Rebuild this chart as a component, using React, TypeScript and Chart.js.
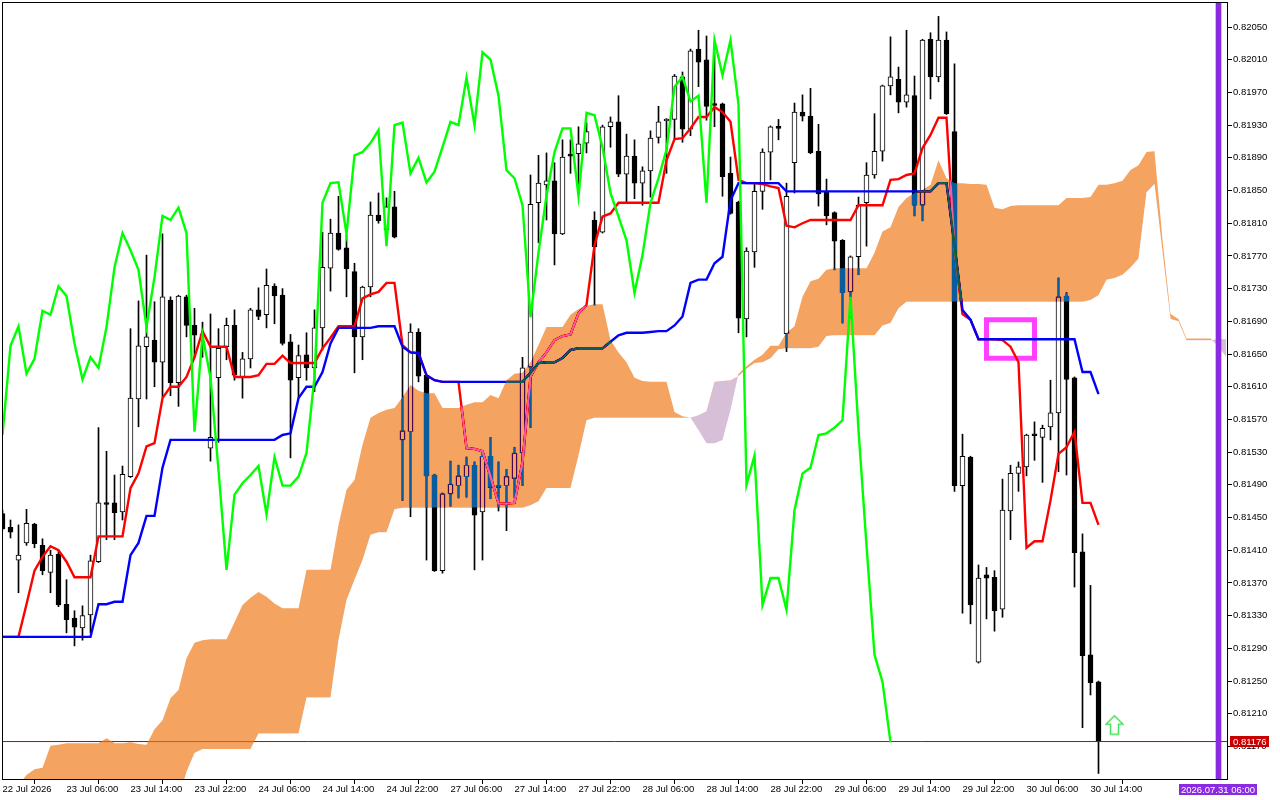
import React, { useEffect, useRef } from "react";
import { Chart, registerables } from "chart.js";

Chart.register(...registerables);

const timeLabels = [
  "22 Jul 2026", "23 Jul 06:00", "23 Jul 14:00", "23 Jul 22:00", "24 Jul 06:00", "24 Jul 14:00",
  "24 Jul 22:00", "27 Jul 06:00", "27 Jul 14:00", "27 Jul 22:00", "28 Jul 06:00", "28 Jul 14:00",
  "28 Jul 22:00", "29 Jul 06:00", "29 Jul 14:00", "29 Jul 22:00", "30 Jul 06:00", "30 Jul 14:00",
];
const priceTicks = [
  0.8205, 0.8201, 0.8197, 0.8193, 0.8189, 0.8185, 0.8181, 0.8177, 0.8173, 0.8169, 0.8165, 0.8161,
  0.8157, 0.8153, 0.8149, 0.8145, 0.8141, 0.8137, 0.8133, 0.8129, 0.8125, 0.8121, 0.8117,
];

// hourly candles
const opens = [
  0.81455,0.81438,0.81398,0.81419,0.81442,0.81416,0.81383,0.81405,0.81344,0.81327,
  0.81315,0.81331,0.81396,0.81468,0.81468,0.81457,0.815,0.81595,0.81659,0.81667,
  0.8164,0.81716,0.81615,0.8172,0.81685,0.81673,0.81535,0.81621,0.81659,0.81685,
  0.81622,0.81644,0.81704,0.81698,0.81733,0.81722,0.81665,0.81621,0.81649,0.81633,
  0.81682,0.81755,0.81798,0.8178,0.81751,0.81671,0.81732,0.8182,0.81802,0.8183,
  0.81545,0.81555,0.81677,0.81624,0.81502,0.81385,0.81479,0.81489,0.815,0.81514,
  0.81457,0.81525,0.81488,0.81489,0.81498,0.81529,0.81634,0.81835,0.81857,0.81862,
  0.81797,0.81893,0.81895,0.81908,0.81814,0.81799,0.81928,0.81934,0.8187,0.81892,
  0.81859,0.81874,0.81915,0.81935,0.81937,0.81989,0.81925,0.82023,0.8201,0.81955,
  0.81956,0.81871,0.81836,0.81693,0.81775,0.81849,0.81897,0.81927,0.81675,0.81884,
  0.81946,0.81941,0.81898,0.81848,0.81823,0.81789,0.81726,0.81769,0.81835,0.81869,
  0.81898,0.81978,0.81986,0.81958,0.81966,0.81832,0.82035,0.81989,0.82034,0.81922,
  0.81489,0.81524,0.81273,0.8138,0.81377,0.81338,0.81458,0.81504,0.81512,0.81551,
  0.81548,0.81561,0.81578,0.81721,0.81621,0.81408,0.81282,0.81249,
];
const highs = [
  0.81459,0.81447,0.81441,0.8146,0.81443,0.81424,0.8141,0.8141,0.81374,0.81336,
  0.81342,0.81404,0.8156,0.81531,0.81502,0.81513,0.81681,0.81715,0.81771,0.81714,
  0.81797,0.8172,0.81722,0.81722,0.81706,0.81689,0.81699,0.81681,0.81694,0.81704,
  0.81652,0.81706,0.81731,0.81754,0.81736,0.8173,0.81674,0.81661,0.81676,0.81704,
  0.81799,0.81815,0.81843,0.81796,0.81761,0.81733,0.81836,0.81847,0.81841,0.81849,
  0.81659,0.81687,0.81681,0.81625,0.81503,0.8148,0.81519,0.81514,0.81524,0.81518,
  0.81529,0.81548,0.81518,0.81509,0.81536,0.81646,0.81869,0.81893,0.81896,0.81884,
  0.81912,0.81912,0.81928,0.81933,0.81824,0.8193,0.8194,0.81966,0.81919,0.81912,
  0.81879,0.81923,0.81953,0.81938,0.81992,0.81995,0.82023,0.82046,0.82039,0.82019,
  0.81957,0.81891,0.81837,0.8178,0.81859,0.81901,0.81929,0.81937,0.81859,0.81957,
  0.81967,0.81975,0.81931,0.81864,0.81824,0.8179,0.8177,0.81842,0.81884,0.81944,
  0.81979,0.82038,0.82001,0.82046,0.8199,0.82035,0.82043,0.82063,0.82044,0.82005,
  0.81552,0.81525,0.81392,0.81389,0.81385,0.81497,0.81514,0.81518,0.81552,0.81567,
  0.81563,0.81618,0.81743,0.81725,0.81622,0.8143,0.81367,0.8125,
];
const lows = [
  0.81435,0.81425,0.81358,0.81416,0.81413,0.8138,0.81358,0.81341,0.81309,0.81293,
  0.813,0.81309,0.81395,0.81423,0.81423,0.81447,0.81499,0.81561,0.81595,0.8161,
  0.81597,0.81599,0.81586,0.81671,0.81646,0.81646,0.81519,0.81542,0.81643,0.81618,
  0.81596,0.81633,0.81692,0.81682,0.81687,0.81661,0.81523,0.81596,0.81618,0.81604,
  0.81655,0.81727,0.81777,0.8172,0.81627,0.81643,0.8172,0.8181,0.81789,0.81792,
  0.81471,0.81451,0.81616,0.81398,0.81384,0.81382,0.81464,0.81474,0.81475,0.81386,
  0.81398,0.81473,0.81458,0.81434,0.81474,0.81489,0.8156,0.81786,0.81814,0.81759,
  0.81796,0.81871,0.81847,0.81896,0.8171,0.81798,0.81903,0.81867,0.81835,0.8184,
  0.81832,0.81842,0.81908,0.81871,0.81912,0.81909,0.81917,0.81977,0.81936,0.81928,
  0.81843,0.81821,0.81676,0.81671,0.81756,0.81827,0.81863,0.81912,0.81653,0.81847,
  0.81935,0.81895,0.81831,0.81808,0.81753,0.81688,0.81695,0.81747,0.81782,0.81865,
  0.81886,0.81967,0.81945,0.81952,0.81819,0.81813,0.81962,0.81983,0.81943,0.81482,
  0.81333,0.8132,0.81272,0.81326,0.81311,0.81328,0.81423,0.81482,0.81501,0.8152,
  0.81493,0.81545,0.81506,0.81502,0.81365,0.81193,0.81233,0.81137,
];
const closes = [
  0.81436,0.81432,0.81404,0.81443,0.81418,0.81385,0.81404,0.81343,0.81325,0.81316,
  0.8133,0.81397,0.81468,0.81466,0.81456,0.81503,0.81596,0.8166,0.81671,0.8164,
  0.8172,0.81615,0.81721,0.81685,0.81673,0.81672,0.81548,0.81657,0.81685,0.81624,
  0.81644,0.81704,0.81696,0.81734,0.81721,0.81663,0.81618,0.81648,0.81633,0.81682,
  0.81756,0.81798,0.81778,0.81754,0.81671,0.81732,0.8182,0.81813,0.8183,0.81793,
  0.81556,0.81677,0.81623,0.81501,0.81385,0.81479,0.81491,0.81501,0.81514,0.81453,
  0.81525,0.81487,0.81487,0.815,0.81529,0.81633,0.81833,0.81859,0.81862,0.81797,
  0.81891,0.81892,0.81907,0.81922,0.81781,0.81928,0.81934,0.8187,0.81892,0.81859,
  0.81874,0.81914,0.81934,0.81937,0.8199,0.81925,0.82021,0.82007,0.81953,0.81954,
  0.81867,0.81822,0.81694,0.81776,0.81849,0.81897,0.81928,0.81926,0.81843,0.81946,
  0.81941,0.81896,0.81846,0.81819,0.81788,0.81725,0.81769,0.81832,0.81869,0.81898,
  0.81978,0.81989,0.81958,0.81967,0.81832,0.82034,0.81989,0.82034,0.81944,0.81489,
  0.81525,0.81343,0.81376,0.81376,0.81336,0.81459,0.81504,0.81512,0.81551,0.8155,
  0.81559,0.81578,0.8172,0.81619,0.81407,0.81281,0.81248,0.81176,
];

// tenkan, kijun and chikou lines
const tenkan = [
  0.81304,0.81304,0.81304,0.81344,0.81385,0.81402,0.81415,0.8141,0.81396,0.81377,
  0.81377,0.81377,0.81427,0.81427,0.81427,0.81427,0.81486,0.81504,0.81537,0.81541,
  0.81596,0.8161,0.8161,0.81622,0.81646,0.81678,0.81659,0.81659,0.81659,0.81622,
  0.81622,0.81622,0.81624,0.81638,0.81638,0.81648,0.81639,0.81639,0.81639,0.81639,
  0.81657,0.8167,0.81684,0.81684,0.81684,0.81718,0.81723,0.81726,0.81737,0.81737,
  0.81661,0.81652,0.81651,0.81624,0.81618,0.81616,0.81616,0.81616,0.81535,0.81534,
  0.81531,0.815,0.81467,0.81467,0.81468,0.81518,0.81622,0.8164,0.81652,0.81667,
  0.81672,0.81674,0.817,0.8171,0.81783,0.81818,0.81822,0.81835,0.81835,0.81835,
  0.81835,0.81835,0.81835,0.81887,0.81913,0.81914,0.81926,0.8194,0.8194,0.81952,
  0.81946,0.81934,0.81863,0.81859,0.81859,0.81858,0.81855,0.81853,0.81807,0.81805,
  0.8181,0.81814,0.81814,0.81814,0.81814,0.81814,0.81814,0.81832,0.81832,0.81832,
  0.81832,0.81863,0.81864,0.81869,0.81871,0.81902,0.81918,0.81939,0.81939,0.8178,
  0.81699,0.81692,0.81668,0.81668,0.81668,0.81667,0.81659,0.8164,0.81413,0.81421,
  0.81421,0.81471,0.81528,0.81536,0.81555,0.81468,0.81468,0.81441,
];
const kijun = [
  0.81304,0.81304,0.81304,0.81304,0.81304,0.81304,0.81304,0.81304,0.81304,0.81304,
  0.81304,0.81304,0.81344,0.81344,0.81347,0.81347,0.81404,0.81419,0.81452,0.81452,
  0.81511,0.81545,0.81545,0.81545,0.81545,0.81545,0.81545,0.81545,0.81545,0.81545,
  0.81545,0.81545,0.81545,0.81545,0.81545,0.81551,0.81553,0.81596,0.8161,0.8161,
  0.81628,0.81663,0.81682,0.81682,0.81682,0.81682,0.81682,0.81684,0.81684,0.81684,
  0.81659,0.81652,0.81651,0.81624,0.81618,0.81616,0.81616,0.81616,0.81616,0.81616,
  0.81616,0.81616,0.81616,0.81616,0.81616,0.81616,0.81627,0.81639,0.8164,0.8164,
  0.81645,0.81655,0.81657,0.81657,0.81657,0.81657,0.81665,0.81673,0.81676,0.81676,
  0.81676,0.81677,0.81678,0.81678,0.81685,0.81696,0.81737,0.81741,0.81741,0.81761,
  0.81769,0.81838,0.81859,0.81859,0.81859,0.81859,0.81859,0.81859,0.81849,0.81849,
  0.81849,0.81849,0.81849,0.81849,0.81849,0.81849,0.81849,0.81849,0.81849,0.81849,
  0.81849,0.81849,0.81849,0.81849,0.81849,0.81849,0.81849,0.81859,0.81859,0.81783,
  0.81704,0.81692,0.81668,0.81668,0.81668,0.81668,0.81668,0.81668,0.81668,0.81668,
  0.81668,0.81668,0.81668,0.81668,0.81668,0.81628,0.81628,0.81601,
];
const chikou = [
  0.81551,0.8166,0.81684,0.81626,0.81644,0.81703,0.81698,0.81733,0.81721,0.81663,
  0.81619,0.81646,0.81633,0.81683,0.81756,0.81798,0.81777,0.81753,0.81683,0.81744,
  0.81819,0.81814,0.81829,0.81798,0.81555,0.81673,0.81621,0.81508,0.81386,0.81478,
  0.81492,0.81502,0.81513,0.81454,0.81524,0.81489,0.81489,0.815,0.81529,0.81622,
  0.81835,0.81859,0.8186,0.81797,0.81893,0.81897,0.81908,0.81924,0.81782,0.8193,
  0.81933,0.81871,0.8189,0.8186,0.81873,0.81903,0.81934,0.8193,0.81988,0.8193,
  0.82019,0.8201,0.81966,0.81875,0.81865,0.81832,0.81695,0.81774,0.81844,0.81897,
  0.81926,0.81926,0.81843,0.81945,0.81942,0.81903,0.81847,0.81818,0.81789,0.81725,
  0.81771,0.81835,0.81865,0.819,0.81977,0.81989,0.81959,0.81966,0.81835,0.82034,
  0.81991,0.82034,0.81955,0.8149,0.81526,0.81343,0.81376,0.81376,0.81337,0.81459,
  0.81504,0.81511,0.81551,0.81553,0.8156,0.81569,0.8172,0.81557,0.81416,0.81282,
  0.81249,0.81175,
];

// cloud spans, they run 16 bars past the last candle
const senkouA = [
  0.81105,0.81111,0.81123,0.81135,0.81142,0.81144,0.81171,0.81172,0.81174,0.81174,
  0.81174,0.81174,0.81174,0.8118,0.81174,0.81174,0.81175,0.81173,0.81172,0.81191,
  0.81202,0.81229,0.81239,0.81278,0.81297,0.813,0.81301,0.81301,0.81301,0.81322,
  0.81343,0.81352,0.81359,0.81353,0.81345,0.81339,0.81339,0.81339,0.81386,0.81386,
  0.81386,0.81386,0.81441,0.81484,0.81496,0.81539,0.81572,0.81578,0.81582,0.81584,
  0.81597,0.81612,0.81605,0.81602,0.81602,0.81584,0.81584,0.81584,0.81588,0.81591,
  0.81591,0.816,0.81596,0.81618,0.81626,0.81627,0.8164,0.81661,0.81683,0.81683,
  0.81683,0.81698,0.81705,0.81709,0.81711,0.81711,0.81667,0.81652,0.8164,0.81621,
  0.81617,0.81616,0.81616,0.81616,0.81579,0.81574,0.81572,0.81557,0.81541,0.81541,
  0.81545,0.81582,0.81626,0.81635,0.81643,0.81649,0.8166,0.8166,0.81676,0.81684,
  0.8172,0.81739,0.81742,0.81753,0.81755,0.81755,0.81755,0.81755,0.81755,0.81774,
  0.818,0.81805,0.8183,0.81841,0.81847,0.81851,0.81857,0.81887,0.81865,0.81859,
  0.81859,0.81858,0.81858,0.81857,0.81829,0.81827,0.81831,0.81832,0.81832,0.81832,
  0.81832,0.81832,0.81832,0.81841,0.81841,0.81841,0.81842,0.81857,0.81857,0.81859,
  0.81862,0.81875,0.81881,0.81897,0.81898,0.8179,0.81699,0.81693,0.81669,0.81669,
  0.81669,0.81669,0.81659,0.81646,
];
const senkouB = [
  0.81095,0.81095,0.81095,0.81095,0.81095,0.81095,0.81095,0.81095,0.81095,0.81095,
  0.81095,0.81095,0.81095,0.81095,0.81095,0.81095,0.81095,0.81095,0.81095,0.81095,
  0.81095,0.81095,0.81105,0.81139,0.81162,0.81167,0.81167,0.81167,0.81167,0.81167,
  0.81167,0.81167,0.81186,0.81186,0.81186,0.81186,0.81186,0.81186,0.8123,0.8123,
  0.8123,0.8123,0.813,0.81349,0.81374,0.81398,0.81429,0.81432,0.81432,0.8146,
  0.81462,0.81462,0.81462,0.81462,0.81462,0.81462,0.81462,0.81462,0.81462,0.81462,
  0.81462,0.81462,0.81462,0.81462,0.81462,0.81462,0.81465,0.8147,0.81486,0.81486,
  0.81486,0.81486,0.81526,0.81569,0.81572,0.81572,0.81572,0.81572,0.81572,0.81572,
  0.81572,0.81572,0.81572,0.81572,0.81572,0.81572,0.81572,0.81575,0.8158,0.81616,
  0.81617,0.81618,0.81623,0.81632,0.81639,0.8164,0.81645,0.81656,0.81657,0.81657,
  0.81657,0.81657,0.81659,0.81672,0.81673,0.81673,0.81673,0.81673,0.81673,0.81673,
  0.81685,0.81688,0.81706,0.81714,0.81714,0.81714,0.81714,0.81714,0.81714,0.81714,
  0.81714,0.81714,0.81714,0.81714,0.81714,0.81714,0.81714,0.81714,0.81714,0.81714,
  0.81714,0.81714,0.81714,0.81714,0.81714,0.81714,0.81716,0.81722,0.81741,0.81743,
  0.81747,0.81756,0.81767,0.81848,0.81858,0.81775,0.81693,0.8169,0.81667,0.81667,
  0.81667,0.81667,0.81668,0.81668,
];

const lastPrice = 0.81176;
const futureBar = 152;
const futureLabel = "2026.07.31 06:00";
const boxBars = [123, 129];
const boxPrices = [0.81692, 0.81645];
const arrowBar = 139;
const arrowPrice = 0.81196;

const labelFont = "9.5px 'Liberation Sans'";

function makeArrow() {
  const c = document.createElement("canvas");
  c.width = 19;
  c.height = 21;
  const g = c.getContext("2d")!;
  g.beginPath();
  g.moveTo(9.5, 1);
  g.lineTo(18, 9.5);
  g.lineTo(13.5, 9.5);
  g.lineTo(13.5, 19.5);
  g.lineTo(5.5, 19.5);
  g.lineTo(5.5, 9.5);
  g.lineTo(1, 9.5);
  g.closePath();
  g.fillStyle = "#ffffff";
  g.fill();
  g.strokeStyle = "#4be05a";
  g.lineWidth = 1.5;
  g.stroke();
  return c;
}

export default function App() {
  const canvasRef = useRef<HTMLCanvasElement | null>(null);

  useEffect(() => {
    if (!canvasRef.current) return;

    const toPoints = (values: number[]) => values.map((y, i) => ({ x: i, y }));

    const datasets: any[] = [
      {
        type: "bar",
        data: highs.map((h, i) => ({ x: i, y: [lows[i], h] })),
        backgroundColor: "#000000",
        barThickness: 1,
        grouped: false,
        order: 90,
      },
      {
        type: "bar",
        data: opens.map((o, i) => ({ x: i, y: [o, closes[i]] })),
        backgroundColor: opens.map((o, i) => (closes[i] >= o ? "#ffffff" : "#000000")),
        borderColor: "#000000",
        borderWidth: 1,
        borderSkipped: false,
        barThickness: 5,
        minBarLength: 2,
        grouped: false,
        order: 80,
      },
      {
        type: "line",
        data: [{ x: -1, y: lastPrice }, { x: 154, y: lastPrice }],
        borderColor: "#c40000",
        borderWidth: 1,
        pointRadius: 0,
        order: 70,
      },
      {
        type: "line",
        data: [
          { x: boxBars[0], y: boxPrices[0] },
          { x: boxBars[1], y: boxPrices[0] },
          { x: boxBars[1], y: boxPrices[1] },
          { x: boxBars[0], y: boxPrices[1] },
          { x: boxBars[0], y: boxPrices[0] },
        ],
        borderColor: "#ff40ff",
        borderWidth: 5,
        borderJoinStyle: "miter",
        borderCapStyle: "square",
        pointRadius: 0,
        order: 60,
      },
      { type: "line", data: toPoints(tenkan), borderColor: "#ff0000", borderWidth: 2.4, pointRadius: 0, order: 50 },
      { type: "line", data: toPoints(kijun), borderColor: "#0000ff", borderWidth: 2.4, pointRadius: 0, order: 40 },
      {
        type: "line",
        data: toPoints(senkouA),
        borderWidth: 0,
        pointRadius: 0,
        fill: { target: "+1", above: "#0b5b9f", below: "#274027" },
        order: 30,
      },
      { type: "line", data: toPoints(senkouB), borderWidth: 0, pointRadius: 0, order: 29 },
      { type: "line", data: toPoints(chikou), borderColor: "#00ff00", borderWidth: 2.4, pointRadius: 0, order: 20 },
      {
        type: "bar",
        data: [{ x: futureBar, y: [0.81, 0.83] }],
        backgroundColor: "#8a2be2",
        barThickness: 5,
        grouped: false,
        order: 10,
      },
      {
        type: "line",
        data: [{ x: arrowBar, y: arrowPrice }],
        showLine: false,
        pointStyle: makeArrow(),
        pointRadius: 10,
        order: 5,
      },
    ];

    // the cloud is painted like the terminal does it: it inverts what lies under it
    const kijunIndex = 5;
    const cloudIndex = 6;
    const chrome = {
      id: "chrome",
      beforeDraw(chart: any) {
        chart.ctx.save();
        chart.ctx.fillStyle = "#ffffff";
        chart.ctx.fillRect(0, 0, chart.width, chart.height);
        chart.ctx.restore();
      },
      afterDatasetDraw(chart: any, args: any) {
        if (args.index === kijunIndex) chart.ctx.globalCompositeOperation = "difference";
        if (args.index === cloudIndex) chart.ctx.globalCompositeOperation = "source-over";
      },
      afterDraw(chart: any) {
        const { ctx, chartArea, scales } = chart;
        ctx.save();
        ctx.strokeStyle = "#000000";
        ctx.lineWidth = 1;
        ctx.strokeRect(chartArea.left + 0.5, chartArea.top + 0.5, chartArea.right - chartArea.left, chartArea.bottom - chartArea.top);

        ctx.font = labelFont;
        ctx.textBaseline = "middle";
        ctx.textAlign = "left";

        const py = Math.round(scales.y.getPixelForValue(lastPrice));
        ctx.fillStyle = "#c80000";
        ctx.fillRect(1230, py - 6, 39, 11);
        ctx.fillStyle = "#ffffff";
        ctx.fillText(lastPrice.toFixed(5), 1233, py + 0.5);

        const fx = scales.x.getPixelForValue(futureBar);
        ctx.fillStyle = "#8a2be2";
        ctx.fillRect(fx - 39.5, 784, 78, 11);
        ctx.fillStyle = "#ffffff";
        ctx.textAlign = "center";
        ctx.fillText(futureLabel, fx - 0.5, 790);
        ctx.restore();
      },
    };

    const noPadding = (s: any) => {
      s.paddingLeft = 0;
      s.paddingRight = 0;
      s.paddingTop = 0;
      s.paddingBottom = 0;
    };

    const chart = new Chart(canvasRef.current, {
      type: "line",
      data: { datasets },
      options: {
        animation: false,
        responsive: false,
        devicePixelRatio: 1,
        layout: { autoPadding: false, padding: { left: 2, top: 2, right: 0, bottom: 0 } },
        elements: { line: { tension: 0 } },
        plugins: { legend: { display: false }, tooltip: { enabled: false }, title: { display: false } },
        scales: {
          x: {
            type: "linear",
            offset: false,
            min: -0.0625,
            max: 153.0625,
            grid: { drawOnChartArea: false, drawTicks: true, tickLength: 5, color: "#000000" },
            border: { display: false },
            afterFit: (s: any) => {
              s.height = 21;
              noPadding(s);
            },
            afterBuildTicks: (s: any) => {
              s.ticks = timeLabels.map((_, i) => ({ value: i * 8 }));
            },
            ticks: {
              autoSkip: false,
              maxRotation: 0,
              minRotation: 0,
              align: "start",
              padding: 0,
              color: "#000000",
              font: { family: "'Liberation Sans'", size: 9.5 },
              callback: (_v: any, i: number) => timeLabels[i],
            },
          },
          y: {
            type: "linear",
            position: "right",
            min: 0.811302,
            max: 0.820806,
            grid: { drawOnChartArea: false, drawTicks: true, tickLength: 5, color: "#000000" },
            border: { display: false },
            afterFit: (s: any) => {
              s.width = 53;
              noPadding(s);
            },
            afterBuildTicks: (s: any) => {
              s.ticks = priceTicks.map((value) => ({ value }));
            },
            ticks: {
              autoSkip: false,
              padding: 1,
              color: "#000000",
              font: { family: "'Liberation Sans'", size: 9.5 },
              callback: (v: any) => Number(v).toFixed(5),
            },
          },
        },
      },
      plugins: [chrome],
    } as any);

    return () => chart.destroy();
  }, []);

  return (
    <div style={{ position: "fixed", left: 0, top: 0 }}>
      <canvas ref={canvasRef} width={1280} height={800} style={{ display: "block" }} />
    </div>
  );
}
